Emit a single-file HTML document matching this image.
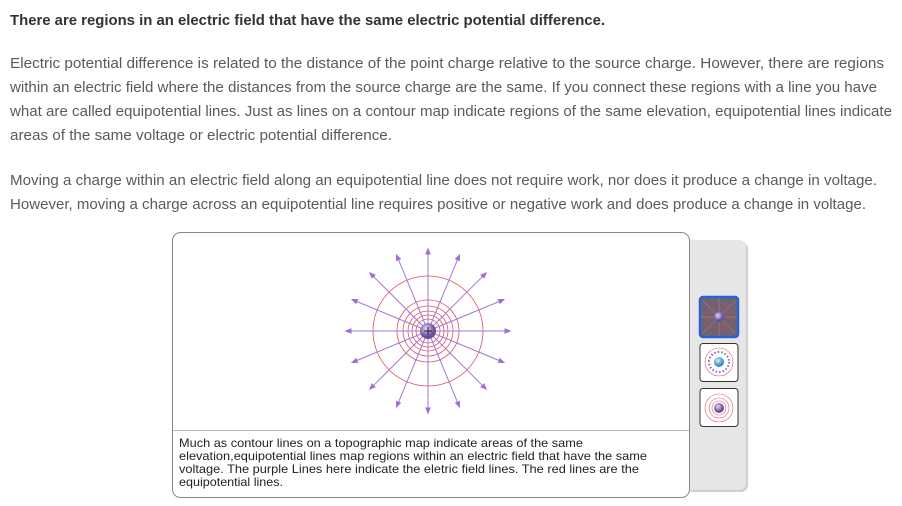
<!DOCTYPE html>
<html><head><meta charset="utf-8"><style>
html,body{margin:0;padding:0;background:#fff;width:902px;height:506px;overflow:hidden}
svg{display:block}
.b{font-family:"Liberation Sans",sans-serif;font-size:15px;fill:#5a5a5a}
.c{font-family:"Liberation Sans",sans-serif;font-size:12px;fill:#222}
</style></head><body>
<svg width="902" height="506">
<defs>
<marker id="ah" viewBox="0 0 10 10" refX="5" refY="5" markerWidth="7" markerHeight="7" orient="auto"><path d="M0,1 L10,5 L0,9 Z" fill="#9b6fd0"/></marker>
<radialGradient id="sph" cx="40%" cy="35%"><stop offset="0" stop-color="#e4d8f4"/><stop offset="1" stop-color="#6a4c9c"/></radialGradient>
<radialGradient id="sphb" cx="40%" cy="35%"><stop offset="0" stop-color="#e0f0ff"/><stop offset="1" stop-color="#3a8ad0"/></radialGradient>
</defs>
<text x="10" y="25" font-family="Liberation Sans,sans-serif" font-size="15" font-weight="bold" fill="#333" textLength="595" lengthAdjust="spacingAndGlyphs">There are regions in an electric field that have the same electric potential difference.</text>
<g>
<text class="b" x="10" y="68" textLength="874" lengthAdjust="spacingAndGlyphs">Electric potential difference is related to the distance of the point charge relative to the source charge. However, there are regions</text>
<text class="b" x="10" y="92" textLength="867" lengthAdjust="spacingAndGlyphs">within an electric field where the distances from the source charge are the same. If you connect these regions with a line you have</text>
<text class="b" x="10" y="116" textLength="882" lengthAdjust="spacingAndGlyphs">what are called equipotential lines. Just as lines on a contour map indicate regions of the same elevation, equipotential lines indicate</text>
<text class="b" x="10" y="140" textLength="382" lengthAdjust="spacingAndGlyphs">areas of the same voltage or electric potential difference.</text>
</g>
<g>
<text class="b" x="10" y="185" textLength="867" lengthAdjust="spacingAndGlyphs">Moving a charge within an electric field along an equipotential line does not require work, nor does it produce a change in voltage.</text>
<text class="b" x="10" y="209" textLength="856" lengthAdjust="spacingAndGlyphs">However, moving a charge across an equipotential line requires positive or negative work and does produce a change in voltage.</text>
</g>
<rect x="686" y="242" width="62" height="250" rx="7" fill="#cfcfcf"/>
<rect x="684" y="240" width="62" height="250" rx="7" fill="#e6e6e6"/>
<rect x="172.5" y="232.5" width="517" height="265" rx="8" fill="#fff" stroke="#888"/>
<line x1="173" y1="430.5" x2="689" y2="430.5" stroke="#bbb"/>
<g id="diagram"></g>
<g>
<text class="c" x="179" y="447" textLength="404" lengthAdjust="spacingAndGlyphs">Much as contour lines on a topographic map indicate areas of the same</text>
<text class="c" x="179" y="460" textLength="468" lengthAdjust="spacingAndGlyphs">elevation,equipotential lines map regions within an electric field that have the same</text>
<text class="c" x="179" y="473" textLength="460" lengthAdjust="spacingAndGlyphs">voltage. The purple Lines here indicate the eletric field lines. The red lines are the</text>
<text class="c" x="179" y="486" textLength="104" lengthAdjust="spacingAndGlyphs">equipotential lines.</text>
</g>
<g>
<rect x="700" y="297" width="38" height="40" rx="3" fill="#6e6470" stroke="#2a5fd8" stroke-width="2.5"/>
<path d="M701,317H737M719,298V336M703,301L735,333M735,301L703,333" stroke="#a090b0" stroke-width="0.5"/>
<circle cx="719" cy="317" r="14" fill="none" stroke="#d04050" stroke-width="0.6"/><circle cx="719" cy="317" r="9" fill="none" stroke="#d04050" stroke-width="0.6"/>
<circle cx="719" cy="317" r="5" fill="url(#sph)"/>
</g>
<g>
<rect x="700" y="343.5" width="38" height="38" rx="3" fill="#fff" stroke="#333"/>
<circle cx="719" cy="362" r="14" fill="none" stroke="#e06070" stroke-width="0.6"/><circle cx="719" cy="362" r="10" fill="none" stroke="#8a60d0" stroke-width="2" stroke-dasharray="1.5 2"/>
<circle cx="719" cy="362" r="5" fill="url(#sphb)"/>
</g>
<g>
<rect x="700" y="388.5" width="38" height="38" rx="3" fill="#fff" stroke="#333"/>
<circle cx="719" cy="408" r="14" fill="none" stroke="#e06070" stroke-width="0.6"/><circle cx="719" cy="408" r="10" fill="none" stroke="#e06070" stroke-width="0.6"/><circle cx="719" cy="408" r="7" fill="none" stroke="#e06070" stroke-width="0.6"/>
<circle cx="719" cy="408" r="5" fill="url(#sph)"/>
</g>
</svg>
<script>
const fieldLineAngles=[0,22.5,45,67.5,90,112.5,135,157.5,180,202.5,225,247.5,270,292.5,315,337.5];
const equipotentialRadii=[55,31,25,20,16,12];
const cx=428,cy=331,len=80;
const ns="http://www.w3.org/2000/svg";
const g=document.getElementById('diagram');
equipotentialRadii.forEach(r=>{
  const c=document.createElementNS(ns,'circle');
  
  
  c.setAttribute('cx',cx);c.setAttribute('cy',cy);c.setAttribute('r',r);
  c.setAttribute('fill','none');c.setAttribute('stroke','#e05060');c.setAttribute('stroke-width','0.8');
  g.appendChild(c);
});
fieldLineAngles.forEach(a=>{
  const t=a*Math.PI/180;
  const l=document.createElementNS(ns,'line');
  
  
  l.setAttribute('x1',cx);l.setAttribute('y1',cy);
  l.setAttribute('x2',cx+len*Math.cos(t));l.setAttribute('y2',cy+len*Math.sin(t));
  l.setAttribute('stroke','#a27ad6');l.setAttribute('stroke-width','1');
  l.setAttribute('marker-end','url(#ah)');
  g.appendChild(l);
});
const s=document.createElementNS(ns,'circle');


s.setAttribute('cx',cx);s.setAttribute('cy',cy);s.setAttribute('r',8);s.setAttribute('fill','url(#sph)');
g.appendChild(s);
const p=document.createElementNS(ns,'path');


p.setAttribute('d',`M${cx-4},${cy}H${cx+4}M${cx},${cy-4}V${cy+4}`);
p.setAttribute('stroke','#222');p.setAttribute('stroke-width','1');
g.appendChild(p);
</script>
</body></html>
